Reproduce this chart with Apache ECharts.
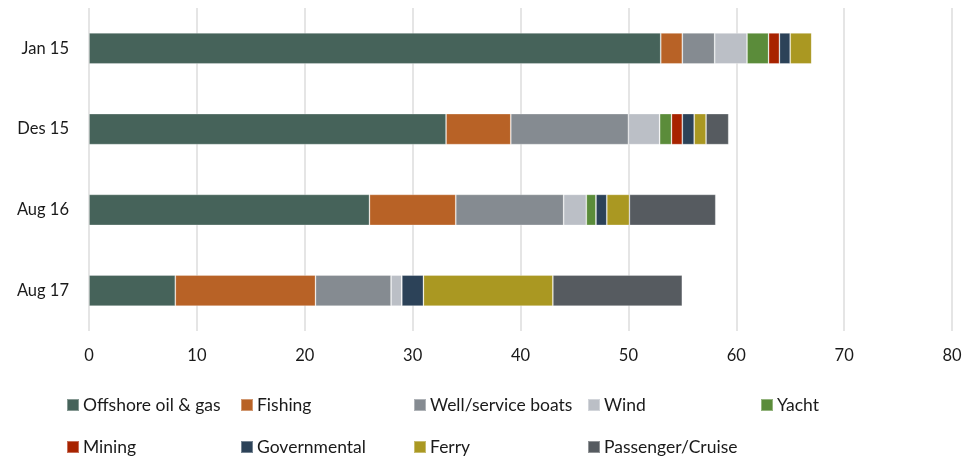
<!DOCTYPE html>
<html>
<head>
<meta charset="utf-8">
<script src="https://cdn.jsdelivr.net/npm/echarts@6/dist/echarts.min.js"></script>
<style>
  html, body { margin: 0; padding: 0; background: #fff; }
  #chart { width: 969px; height: 461px; }
</style>
</head>
<body>
<div id="chart"></div>
<script>
// Vessel count by segment, per period
const periods = ['Jan 15', 'Des 15', 'Aug 16', 'Aug 17'];
const segments = ['Offshore oil & gas', 'Fishing', 'Well/service boats', 'Wind', 'Yacht',
                  'Mining', 'Governmental', 'Ferry', 'Passenger/Cruise'];

const offshore   = [53, 33.1, 26, 8];
const fishing    = [2, 6, 8, 13];
const wellBoats  = [3, 10.9, 10, 7];
const wind       = [3, 2.9, 2.1, 1];
const yacht      = [2, 1.1, 0.9, 0];
const mining     = [1, 1, 0, 0];
const government = [1, 1.1, 1, 2];
const ferry      = [2, 1.1, 2.1, 12];
const passenger  = [0, 2.1, 8, 12];

const xTicks = [0, 10, 20, 30, 40, 50, 60, 70, 80];

const seriesValues = [offshore, fishing, wellBoats, wind, yacht, mining, government, ferry, passenger];
const palette = ['#46635A', '#B86226', '#858B91', '#BBBFC6', '#5B8C3A',
                 '#A82300', '#2C4258', '#AA9822', '#565B60'];

const FONT = 'Lato, "Open Sans", sans-serif';
const TEXT = '#1a1a1a';

// Legend laid out as a 5-column grid over two rows
const colX = [66, 240, 413, 587, 760];
const rowY = [396, 438];
const legends = segments.map((name, i) => ({
  data: [name],
  left: colX[i % 5],
  top: rowY[Math.floor(i / 5)],
  itemWidth: 12,
  itemHeight: 12,
  icon: 'rect',
  padding: 0,
  textStyle: { fontFamily: FONT, fontSize: 17.5, color: TEXT, padding: [0, 0, 0, -1] }
}));

const chart = echarts.init(document.getElementById('chart'), null, { renderer: 'canvas' });
chart.setOption({
  animation: false,
  color: palette,
  grid: { left: 89, right: 17, top: 8, height: 323, containLabel: false },
  legend: legends,
  xAxis: {
    type: 'value',
    min: xTicks[0],
    max: xTicks[xTicks.length - 1],
    interval: 10,
    axisLine: { show: false },
    axisTick: { show: false },
    splitLine: { show: true, lineStyle: { color: '#DCDCDC', width: 1.5 } },
    axisLabel: { margin: 16, fontFamily: FONT, fontSize: 16.5, color: TEXT }
  },
  yAxis: {
    type: 'category',
    inverse: true,
    data: periods,
    axisLine: { show: false },
    axisTick: { show: false },
    axisLabel: { margin: 20, fontFamily: FONT, fontSize: 16.5, color: TEXT }
  },
  series: segments.map((name, i) => ({
    name: name,
    type: 'bar',
    stack: 'total',
    barWidth: 31,
    data: seriesValues[i],
    itemStyle: { borderColor: 'rgba(255,255,255,0.35)', borderWidth: 0.8 }
  }))
});
</script>
</body>
</html>
